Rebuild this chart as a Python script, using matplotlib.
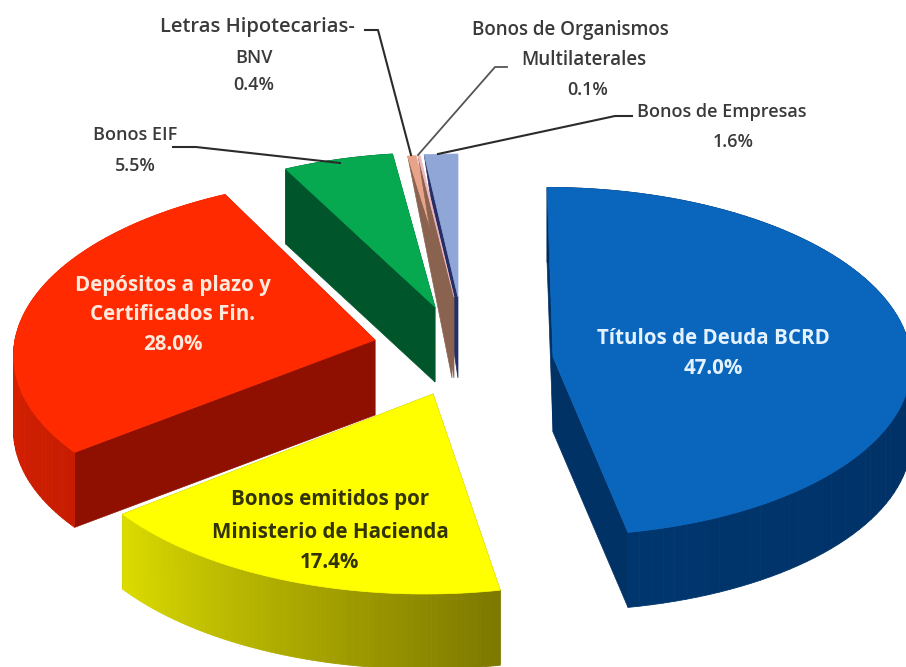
import numpy as np
import matplotlib
matplotlib.use('Agg')
import matplotlib.pyplot as plt
from matplotlib.colors import to_rgb

# data (clockwise from the top)
names = ['Titulos', 'Hacienda', 'Depositos', 'EIF', 'Letras', 'Organismos', 'Empresas']
values = [47.0, 17.4, 28.0, 5.5, 0.4, 0.1, 1.6]

# slice look: exploded centre, radii, perspective, shear
cx = {'Titulos': 553, 'Hacienda': 433, 'Depositos': 375, 'EIF': 435, 'Letras': 452, 'Organismos': 454, 'Empresas': 458}
cy = {'Titulos': 357, 'Hacienda': 394, 'Depositos': 340, 'EIF': 307, 'Letras': 297, 'Organismos': 297, 'Empresas': 297}
rx = {'Titulos': 358, 'Hacienda': 372, 'Depositos': 360, 'EIF': 345, 'Letras': 360, 'Organismos': 360, 'Empresas': 360}
ry = {'Titulos': 174, 'Hacienda': 186, 'Depositos': 174, 'EIF': 165, 'Letras': 152, 'Organismos': 152, 'Empresas': 153}
persp = {'Titulos': 0.026, 'Hacienda': 0.07, 'Depositos': 0.07, 'EIF': 0.07, 'Letras': 0.07, 'Organismos': 0.07, 'Empresas': 0.07}
shear = {'Titulos': 0.035, 'Hacienda': -0.039, 'Depositos': -0.04, 'EIF': 0, 'Letras': 0, 'Organismos': 0, 'Empresas': 0}
top_col = {'Titulos': '#0a66bd', 'Hacienda': '#ffff00', 'Depositos': '#ff2a00', 'EIF': '#06a94f',
           'Letras': '#e8a488', 'Organismos': '#f0b8c0', 'Empresas': '#90a6d6'}
cut_col = {'Titulos': '#003266', 'Hacienda': '#8a8600', 'Depositos': '#8f1000', 'EIF': '#00552b',
           'Letras': '#8a6350', 'Organismos': '#8a6350', 'Empresas': '#232f66'}
arc_start = {'Titulos': '#002a5a', 'Hacienda': '#7d7800', 'Depositos': '#c81c00', 'EIF': '#00552b',
             'Letras': '#8a6350', 'Organismos': '#8a6350', 'Empresas': '#232f66'}
arc_end = {'Titulos': '#00366e', 'Hacienda': '#dcdc00', 'Depositos': '#f02400', 'EIF': '#00552b',
           'Letras': '#8a6350', 'Organismos': '#8a6350', 'Empresas': '#232f66'}
thick = 75
draw_order = ['Empresas', 'EIF', 'Letras', 'Organismos', 'Titulos', 'Hacienda', 'Depositos']
thin = ['Letras', 'Organismos', 'Empresas']

plt.rcParams['font.family'] = ['Open Sans', 'DejaVu Sans']
fig = plt.figure(figsize=(9.06, 6.67), dpi=100)
ax = fig.add_axes([0, 0, 1, 1])
ax.set_xlim(0, 906)
ax.set_ylim(667, 0)
ax.axis('off')


def rim(n, t):
    f = 1 / (1 + persp[n] * np.cos(t))
    y = -ry[n] * np.cos(t) * f
    x = rx[n] * np.sin(t) * f + shear[n] * y
    return cx[n] + x, cy[n] + y


edges = np.cumsum([0] + values) / 100 * 2 * np.pi
t0 = dict(zip(names, edges[:-1]))
t1 = dict(zip(names, edges[1:]))


def draw_slice(n):
    t = np.linspace(t0[n], t1[n], 90)
    x, y = rim(n, t)
    if n in thin:
        # seen almost edge-on, only a sliver of the cut shows
        x0, y0 = rim(n, t[0])
        ax.fill([x0, cx[n], cx[n]], [y0, cy[n], cy[n] + thick * 1.08], color=cut_col[n], lw=0.5, zorder=1)
    else:
        # the two cut walls go first, the outer wall hides what is behind it
        for k in [0, -1]:
            ax.fill([x[k], cx[n], cx[n], x[k]], [y[k], cy[n], cy[n] + thick, y[k] + thick],
                    color=cut_col[n], lw=0.5, zorder=1)
        c0 = np.array(to_rgb(arc_start[n]))
        c1 = np.array(to_rgb(arc_end[n]))
        for i in range(len(t) - 1):
            c = c0 + (c1 - c0) * i / (len(t) - 2)
            ax.fill([x[i], x[i + 1], x[i + 1], x[i]], [y[i], y[i + 1], y[i + 1] + thick, y[i] + thick],
                    color=c, lw=0.6, zorder=1)
    ax.fill(np.r_[cx[n], x], np.r_[cy[n], y], color=top_col[n], lw=0.5, zorder=1)


for n in draw_order:
    draw_slice(n)

# leader lines
lead = '#2b2b2b'
ax.plot([173, 196, 340], [147, 147, 163], color=lead, lw=1.5, zorder=3)
ax.plot([365, 378, 411], [30, 30, 155], color=lead, lw=1.5, zorder=3)
ax.plot([507, 495, 418], [67, 67, 155], color='#555555', lw=1.3, zorder=3)
ax.plot([632, 615, 438], [116, 116, 154], color=lead, lw=1.5, zorder=3)

dark = '#3a3a3a'
ax.text(257, 27, 'Letras Hipotecarias-', color=dark, fontsize=14.5, weight='semibold', ha='center', va='center')
ax.text(254, 58, 'BNV', color=dark, fontsize=13, weight='semibold', ha='center', va='center')
ax.text(254, 85, '0.4%', color=dark, fontsize=13, weight='semibold', ha='center', va='center')
ax.text(570, 30, 'Bonos de Organismos', color=dark, fontsize=13.5, weight='semibold', ha='center', va='center')
ax.text(584, 60, 'Multilaterales', color=dark, fontsize=13.5, weight='semibold', ha='center', va='center')
ax.text(588, 90, '0.1%', color=dark, fontsize=13, weight='semibold', ha='center', va='center')
ax.text(722, 112, 'Bonos de Empresas', color=dark, fontsize=13, weight='semibold', ha='center', va='center')
ax.text(733, 142, '1.6%', color=dark, fontsize=13, weight='semibold', ha='center', va='center')
ax.text(135, 135, 'Bonos EIF', color=dark, fontsize=13, weight='semibold', ha='center', va='center')
ax.text(135, 166, '5.5%', color=dark, fontsize=13, weight='semibold', ha='center', va='center')
ax.text(173, 285, 'Depósitos a plazo y', color='#ffe8dc', fontsize=14.8, weight='bold', ha='center', va='center')
ax.text(173, 315, 'Certificados Fin.', color='#ffe8dc', fontsize=14.8, weight='bold', ha='center', va='center')
ax.text(173, 345, '28.0%', color='#ffe8dc', fontsize=14.8, weight='bold', ha='center', va='center')
ax.text(330, 500, 'Bonos emitidos por', color='#33330a', fontsize=14.8, weight='bold', ha='center', va='center')
ax.text(330, 532, 'Ministerio de Hacienda', color='#33330a', fontsize=14.8, weight='bold', ha='center', va='center')
ax.text(330, 562, '17.4%', color='#33330a', fontsize=14.8, weight='bold', ha='center', va='center')
ax.text(713, 338, 'Títulos de Deuda BCRD', color='#e4f2ff', fontsize=14.8, weight='bold', ha='center', va='center')
ax.text(713, 368, '47.0%', color='#e4f2ff', fontsize=14.8, weight='bold', ha='center', va='center')

fig.savefig('out.png', dpi=100, facecolor='white')
